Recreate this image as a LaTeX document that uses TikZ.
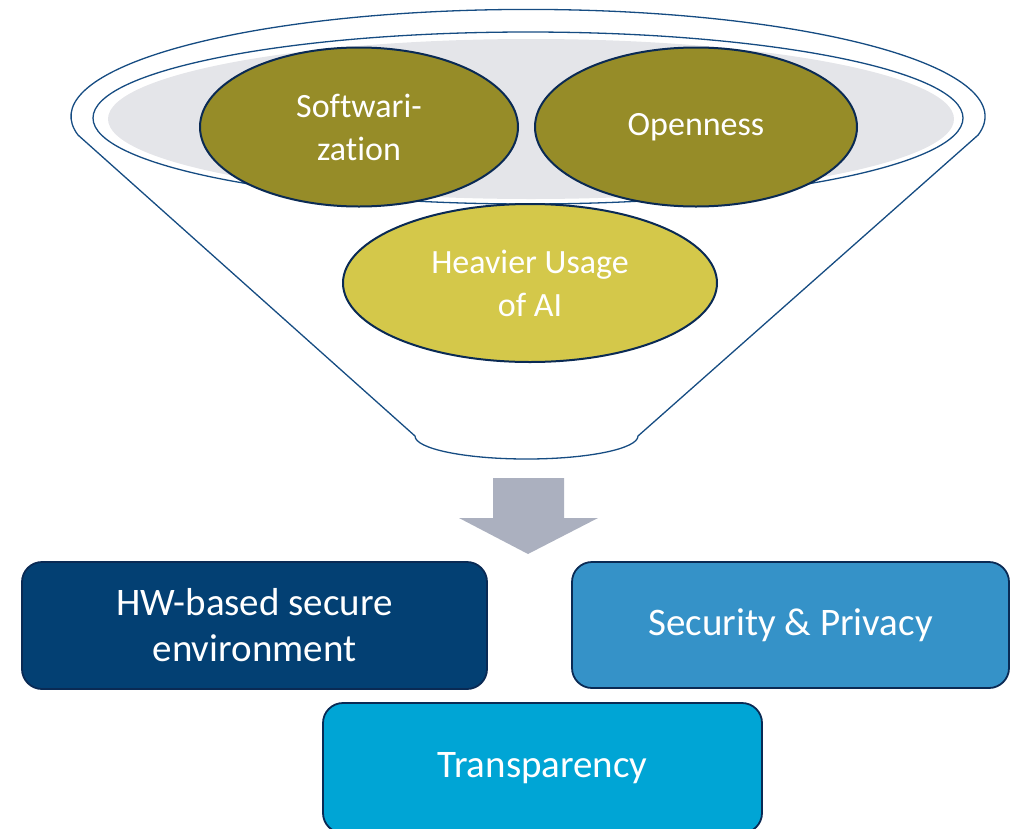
\documentclass[tikz,border=0pt]{standalone}
\usepackage{fontspec}
\setmainfont{Carlito}[Ligatures=NoCommon]
\usetikzlibrary{shapes.geometric}
\definecolor{navy}{RGB}{10,42,84}
\definecolor{funnelline}{RGB}{22,76,130}
\definecolor{rimgray}{RGB}{228,229,233}
\definecolor{olive}{RGB}{150,140,40}
\definecolor{lightolive}{RGB}{212,200,74}
\definecolor{arrowgray}{RGB}{171,176,191}
\definecolor{darkblue}{RGB}{3,64,115}
\definecolor{midblue}{RGB}{53,146,200}
\definecolor{cyanblue}{RGB}{0,165,213}
\tikzset{
  topic/.style={ellipse, draw=navy, line width=2pt, text=white, align=center,
    font=\fontsize{34}{43}\selectfont, inner sep=0pt},
  outcome/.style={rectangle, rounded corners=20pt, draw=navy, line width=1.8pt,
    text=white, align=center, font=\fontsize{39}{46}\selectfont, inner sep=0pt},
  rim/.style={draw=funnelline, line width=1.3pt}
}
\begin{document}
\begin{tikzpicture}[x=1pt, y=-1pt]
\useasboundingbox (0,0) rectangle (1020,828);

% funnel body: top rim arc, sloping sides and rounded spout
\draw[rim] (415,436) -- (78,135)
  arc[start angle=170, end angle=370, x radius=457, y radius=107]
  -- (638,436)
  arc[start angle=0, end angle=180, x radius=111.5, y radius=23]
  -- cycle;

% inner rim and its gray opening
\draw[rim] (528,118) ellipse[x radius=435, y radius=86];
\fill[rimgray] (531,119) ellipse[x radius=423, y radius=80];

% ingredients in the funnel
\node[topic, fill=olive, minimum width=318pt, minimum height=159pt] (soft) at (359,127) {Softwari-\\zation};
\node[topic, fill=olive, minimum width=322pt, minimum height=159pt] (open) at (696,127) {Openness};
\node[topic, fill=lightolive, minimum width=374pt, minimum height=158pt] (ai) at (530,283) {Heavier Usage\\of AI};

% block arrow out of the funnel
\fill[arrowgray] (493,478) -- (564,478) -- (564,518) -- (598,518)
  -- (528,554) -- (459,518) -- (493,518) -- cycle;

% resulting requirements
\node[outcome, fill=darkblue, minimum width=465pt, minimum height=127pt] (hw) at (254.5,625.5) {HW-based secure\\environment};
\node[outcome, fill=midblue, minimum width=437pt, minimum height=126pt] (sec) at (790.5,625) {Security \& Privacy};
\node[outcome, fill=cyanblue, minimum width=439pt, minimum height=130pt] (trans) at (542.5,768) {Transparency};
\end{tikzpicture}
\end{document}
